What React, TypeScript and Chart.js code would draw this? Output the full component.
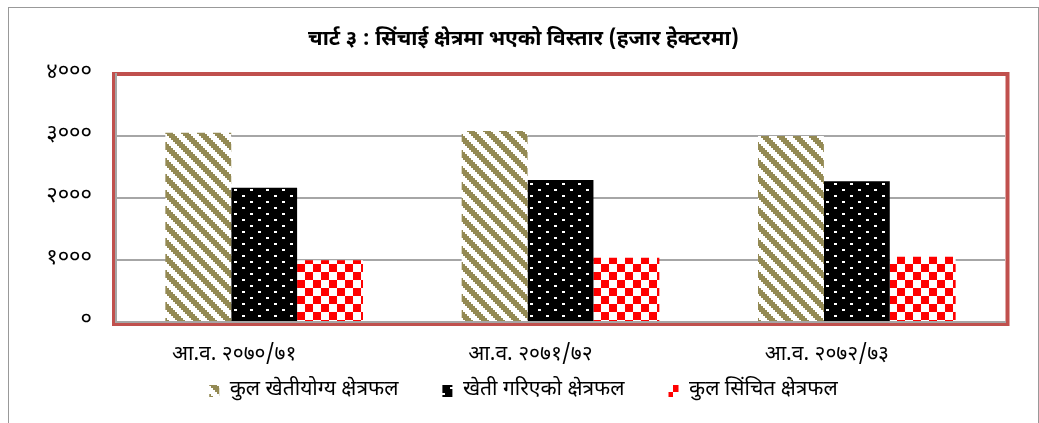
import React, { useEffect, useRef } from 'react';
import { Chart, registerables } from 'chart.js';

Chart.register(...registerables);

const titleText = 'चार्ट ३ : सिंचाई क्षेत्रमा भएको विस्तार (हजार हेक्टरमा)';
const categories = ['आ.व. २०७०/७१', 'आ.व. २०७१/७२', 'आ.व. २०७२/७३'];
const seriesNames = ['कुल खेतीयोग्य क्षेत्रफल', 'खेती गरिएको क्षेत्रफल', 'कुल सिंचित क्षेत्रफल'];
const cultivable = [3053, 3081, 3000];
const cultivated = [2166, 2290, 2269];
const irrigated = [995, 1037, 1053];
const yTicks = [0, 1000, 2000, 3000, 4000];
const yTickLabels = ['०', '१०००', '२०००', '३०००', '४०००'];

const FONT = "'Noto Sans Devanagari', 'Noto Sans', 'Lohit Devanagari', 'Mangal', sans-serif";

function makeTile(w: number, h: number, draw: (c: CanvasRenderingContext2D) => void) {
  const c = document.createElement('canvas');
  c.width = w;
  c.height = h;
  const ctx = c.getContext('2d')!;
  draw(ctx);
  return c;
}

function makePatterns(ctx: CanvasRenderingContext2D) {
  const gold = makeTile(16, 16, (c) => {
    c.fillStyle = '#ffffff';
    c.fillRect(0, 0, 16, 16);
    c.fillStyle = '#948A54';
    for (let i = 0; i < 8; i++) {
      for (let j = 0; j < 8; j++) {
        const d = (((i - j) % 8) + 8) % 8;
        if (d < 4) c.fillRect(i * 2, j * 2, 2, 2);
      }
    }
  });
  const dots = makeTile(16, 12, (c) => {
    c.fillStyle = '#000000';
    c.fillRect(0, 0, 16, 12);
    c.fillStyle = '#ffffff';
    c.fillRect(1, 1, 3, 2);
    c.fillRect(9, 7, 3, 2);
  });
  const checker = makeTile(16, 16, (c) => {
    c.fillStyle = '#ffffff';
    c.fillRect(0, 0, 16, 16);
    c.fillStyle = '#FF0000';
    c.fillRect(0, 0, 8, 8);
    c.fillRect(8, 8, 8, 8);
  });
  return [
    ctx.createPattern(gold, 'repeat')!,
    ctx.createPattern(dots, 'repeat')!,
    ctx.createPattern(checker, 'repeat')!,
  ];
}

const framePlugin = {
  id: 'redFrame',
  beforeDraw(chart: any) {
    const { ctx, chartArea: a } = chart;
    ctx.save();
    ctx.strokeStyle = '#C0504D';
    ctx.lineWidth = 4;
    ctx.strokeRect(a.left - 2, a.top, a.right - a.left + 4.5, a.bottom - a.top + 2);
    ctx.restore();
  },
};

const categoryLabelPlugin = {
  id: 'categoryLabels',
  afterDraw(chart: any) {
    const { ctx, chartArea: a } = chart;
    const xs = chart.scales.x;
    ctx.save();
    ctx.font = `21px ${FONT}`;
    ctx.fillStyle = '#000';
    ctx.textAlign = 'center';
    ctx.textBaseline = 'middle';
    categories.forEach((c, i) => {
      ctx.fillText(c, xs.getPixelForValue(i) - 30, a.bottom + 34);
    });
    ctx.restore();
  },
};

export default function App() {
  const ref = useRef<HTMLCanvasElement | null>(null);

  useEffect(() => {
    const canvas = ref.current!;
    const ctx = canvas.getContext('2d')!;
    const [pGold, pDots, pChecker] = makePatterns(ctx);
    const values = [cultivable, cultivated, irrigated];
    const fills = [pGold, pDots, pChecker];

    const chart = new Chart(ctx, {
      type: 'bar',
      data: {
        labels: categories,
        datasets: seriesNames.map((name, i) => ({
          label: name,
          data: values[i],
          backgroundColor: fills[i] as any,
          borderWidth: 0,
          categoryPercentage: 0.667,
          barPercentage: 1,
        })),
      },
      options: {
        animation: false,
        responsive: false,
        devicePixelRatio: 1,
        layout: { padding: { left: 0, right: 0, top: 0, bottom: 11.5 } },
        plugins: {
          tooltip: { enabled: false },
          title: {
            display: true,
            text: titleText,
            color: '#000',
            font: { family: FONT, size: 21, weight: 'bold' },
            padding: { top: 20, bottom: 20.8 },
          },
          legend: {
            display: true,
            position: 'bottom',
            labels: {
              color: '#000',
              font: { family: FONT, size: 21 },
              boxWidth: 10,
              boxHeight: 12,
              padding: 44,
            },
          },
        },
        scales: {
          x: {
            grid: { display: false, drawTicks: false },
            border: { display: true, color: '#a6a6a6', width: 2 },
            ticks: { display: false },
            afterFit: (s: any) => {
              s.height = 14.5;
            },
          },
          y: {
            min: 0,
            max: 4000,
            position: 'left',
            grid: {
              drawTicks: false,
              lineWidth: 2,
              color: (c: any) => (c.tick && c.tick.value === 4000 ? 'rgba(0,0,0,0)' : '#a6a6a6'),
            },
            border: { display: true, color: '#a6a6a6', width: 2 },
            ticks: {
              stepSize: 1000,
              color: '#000',
              font: { family: FONT, size: 22 },
              padding: 24,
              callback: (v: any) => {
                const idx = yTicks.indexOf(Number(v));
                return idx >= 0 ? yTickLabels[idx] : '';
              },
            },
            afterFit: (s: any) => {
              s.width = 107;
            },
          },
          yR: {
            type: 'linear',
            position: 'right',
            display: true,
            grid: { display: false, drawTicks: false },
            border: { display: false },
            ticks: { display: false },
            afterFit: (s: any) => {
              s.width = 33;
            },
          },
        },
      } as any,
      plugins: [framePlugin, categoryLabelPlugin],
    });
    return () => chart.destroy();
  }, []);

  return (
    <div
      style={{
        position: 'absolute',
        left: 8,
        top: 7,
        width: 1031,
        height: 416,
        borderTop: '1px solid #999',
        borderLeft: '1px solid #999',
        borderRight: '1px solid #999',
        boxSizing: 'border-box',
        background: '#fff',
      }}
    >
      <canvas ref={ref} width={1029} height={415} style={{ display: 'block', width: 1029, height: 415 }} />
    </div>
  );
}
